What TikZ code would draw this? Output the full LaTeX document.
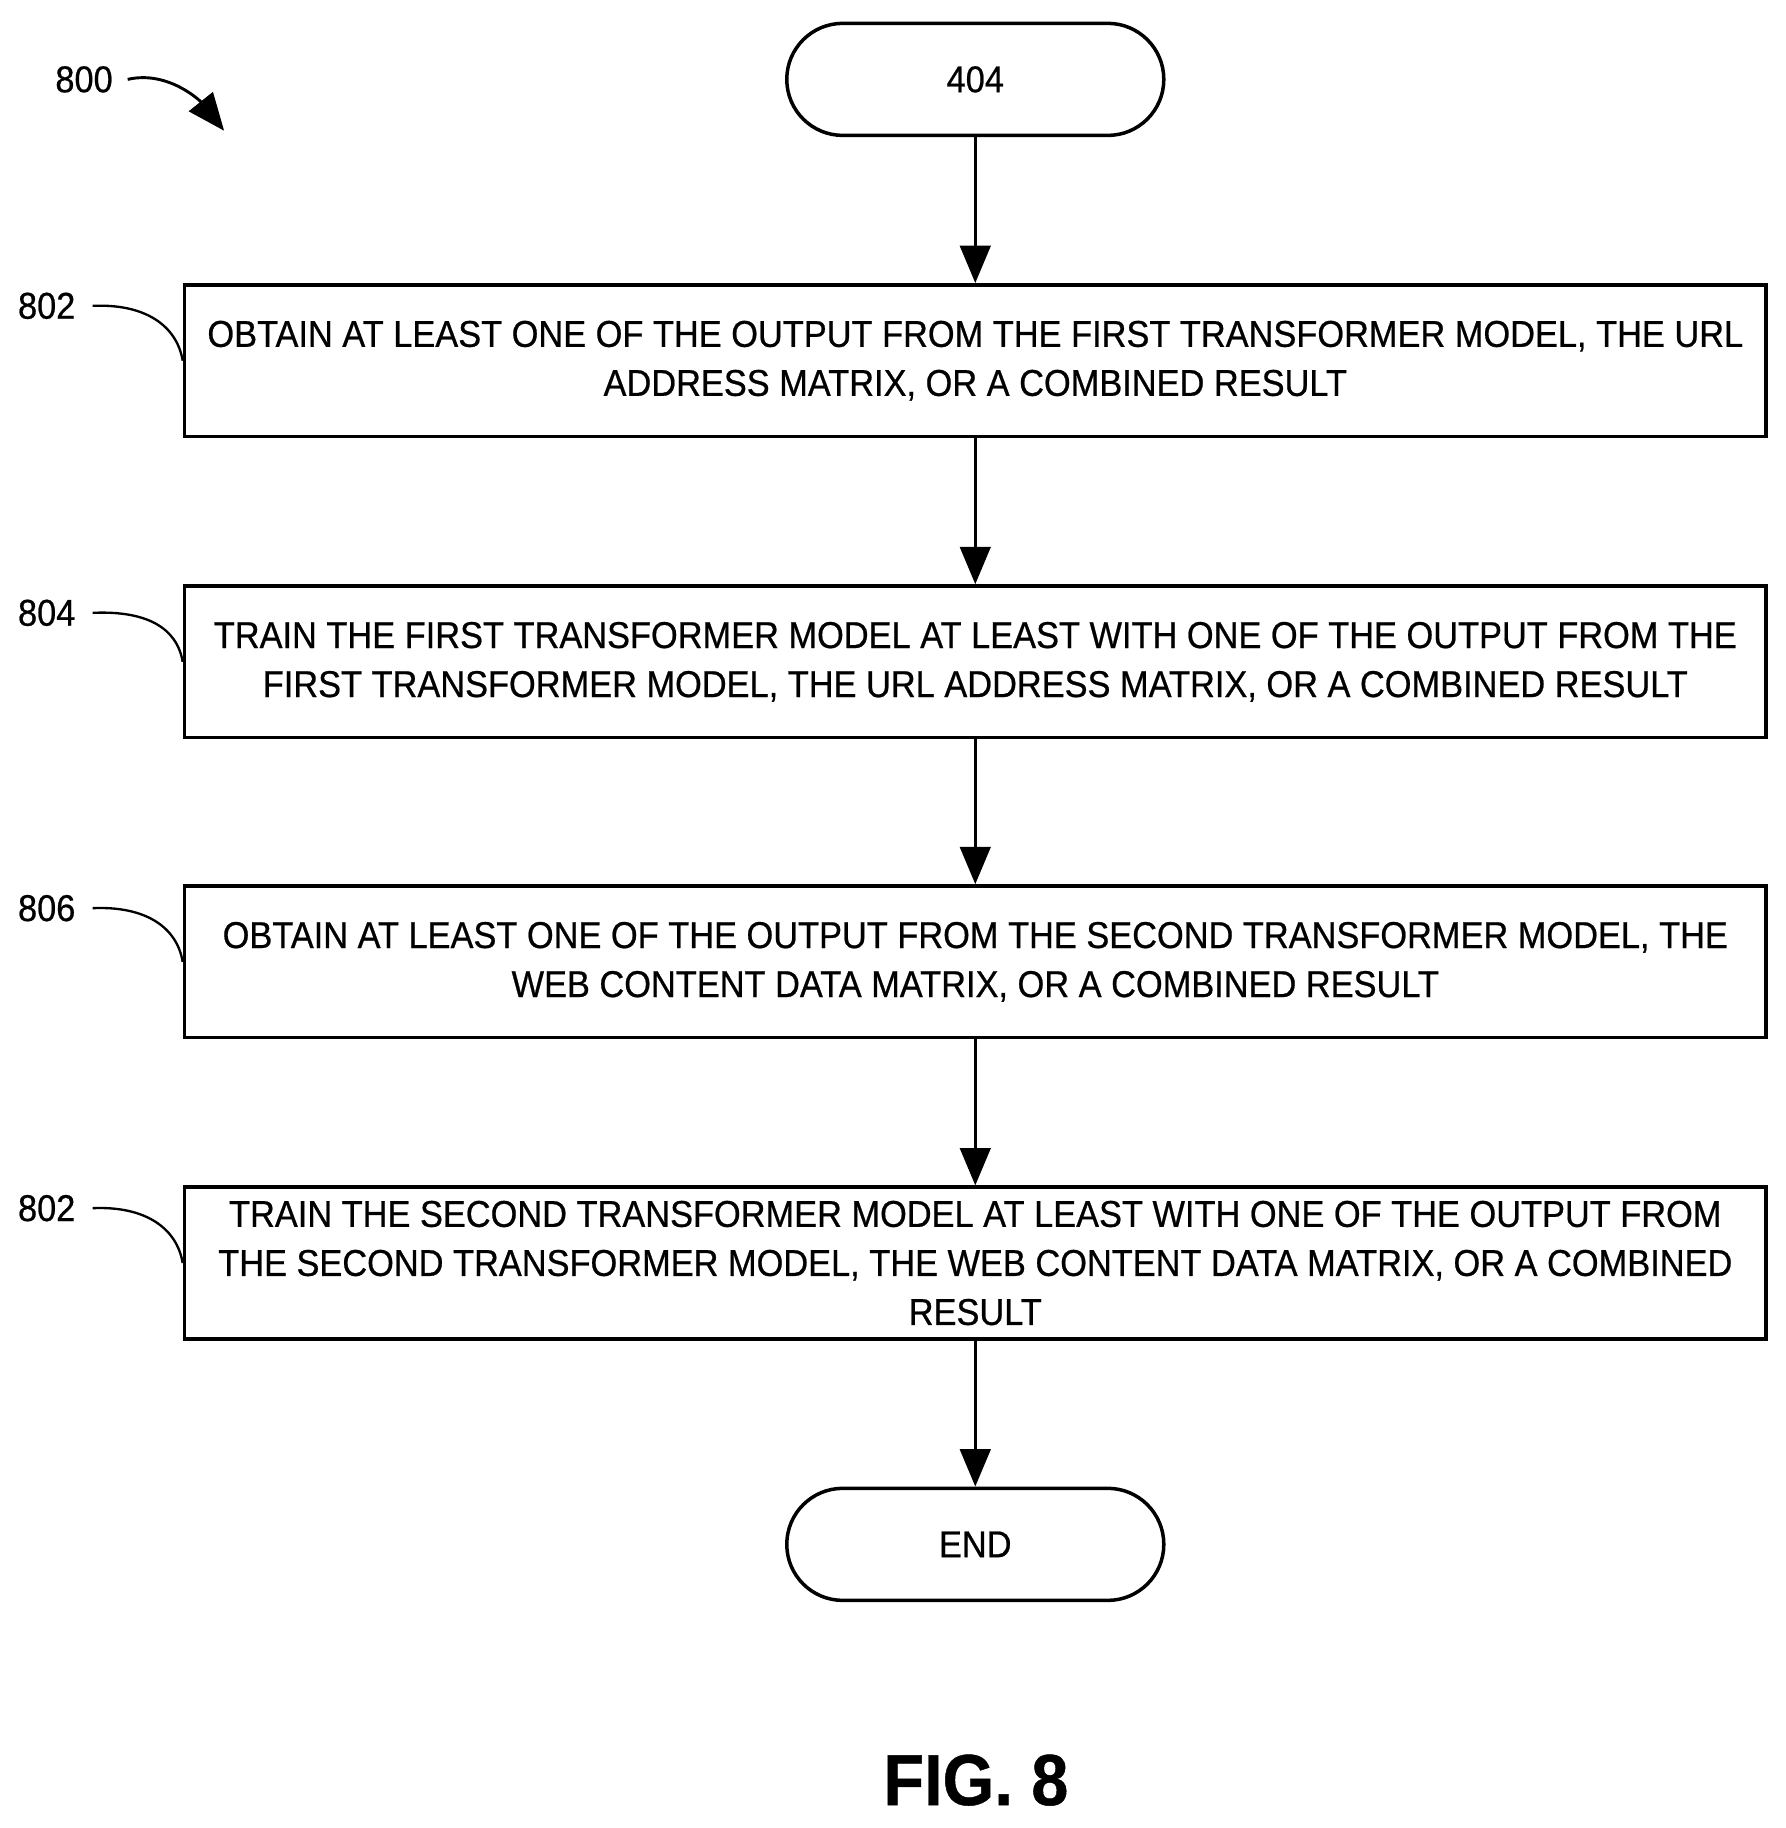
\documentclass[tikz,border=0pt]{standalone}
\usepackage{fontspec}
\setmainfont{Liberation Sans}[FakeStretch=0.92,FakeBold=0.6]
\usetikzlibrary{arrows.meta}
\begin{document}
\begin{tikzpicture}[x=1pt,y=-1pt,line width=3pt,
  box/.style={draw,minimum width=1355pt,minimum height=130pt,align=center,font=\fontsize{32}{42}\selectfont,inner sep=0pt},
  term/.style={draw,rounded corners=48pt,minimum width=323pt,minimum height=96pt,font=\fontsize{32}{38}\selectfont},
  lbl/.style={font=\fontsize{32}{38}\selectfont},
  arr/.style={-{Triangle[length=32pt,width=26pt]}}]
\useasboundingbox (0,0) rectangle (1530,1566);
\node[term] (s) at (835.5,68) {404};
\node[box] (b1) at (835.5,309) {OBTAIN AT LEAST ONE OF THE OUTPUT FROM THE FIRST TRANSFORMER MODEL, THE URL\\ADDRESS MATRIX, OR A COMBINED RESULT};
\node[box] (b2) at (835.5,567) {TRAIN THE FIRST TRANSFORMER MODEL AT LEAST WITH ONE OF THE OUTPUT FROM THE\\FIRST TRANSFORMER MODEL, THE URL ADDRESS MATRIX, OR A COMBINED RESULT};
\node[box] (b3) at (835.5,824) {OBTAIN AT LEAST ONE OF THE OUTPUT FROM THE SECOND TRANSFORMER MODEL, THE\\WEB CONTENT DATA MATRIX, OR A COMBINED RESULT};
\node[box] (b4) at (835.5,1082) {TRAIN THE SECOND TRANSFORMER MODEL AT LEAST WITH ONE OF THE OUTPUT FROM\\THE SECOND TRANSFORMER MODEL, THE WEB CONTENT DATA MATRIX, OR A COMBINED\\RESULT};
\node[term] (e) at (835.5,1323) {END};
\draw[arr] (s) -- (b1);
\draw[arr] (b1) -- (b2);
\draw[arr] (b2) -- (b3);
\draw[arr] (b3) -- (b4);
\draw[arr] (b4) -- (e);
\node[lbl] (l800) at (72,68) {800};
\coordinate (t800) at (192,112);
\draw[arr,line width=2.5pt] (l800.east) ++(8,0) .. controls +(35,-8) and +(-20,-25) .. (t800);
\foreach \n/\t/\y/\b in {a/802/262/b1,b/804/525/b2,c/806/778/b3,d/802/1035/b4}{
  \node[lbl] (L\n) at (40,\y) {\t};
  \draw[line width=2pt] (L\n.east) ++(10,0) .. controls +(45,-2) and +(-5,-30) .. (\b.west);
}
\node[font=\bfseries\fontsize{62}{70}\selectfont] (fig) at (836,1525) {FIG. 8};
\end{tikzpicture}
\end{document}
